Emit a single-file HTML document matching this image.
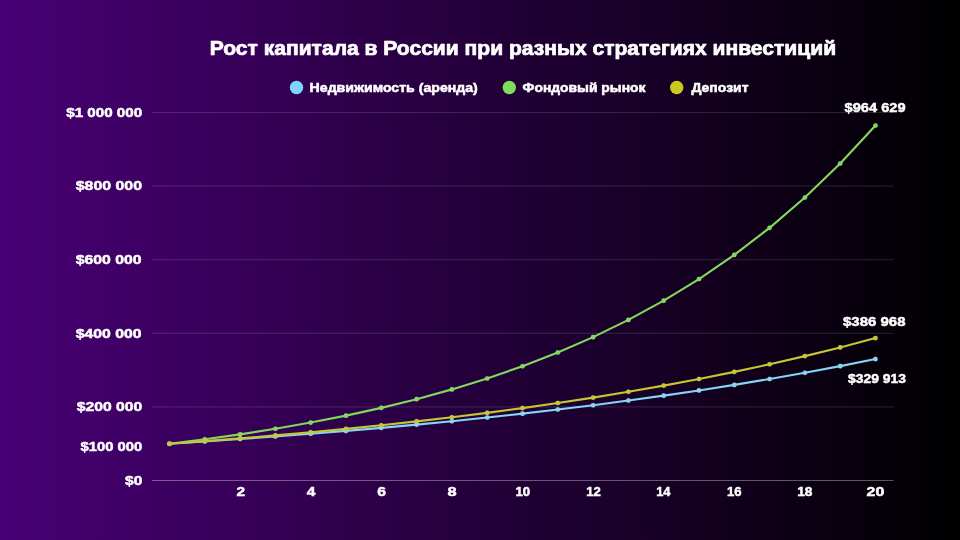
<!DOCTYPE html>
<html lang="ru">
<head>
<meta charset="utf-8">
<title>Рост капитала в России при разных стратегиях инвестиций</title>
<style>
html,body{margin:0;padding:0;}
body{width:960px;height:540px;overflow:hidden;background:#000;font-family:"Liberation Sans",sans-serif;}
#chart{position:relative;width:960px;height:540px;background:linear-gradient(90deg,#480075 0%,#000000 100%);}
svg{position:absolute;left:0;top:0;display:block;}
text{font-family:"Liberation Sans",sans-serif;font-weight:bold;fill:#ffffff;stroke:#ffffff;stroke-linejoin:round;}
.title{font-size:19.5px;stroke-width:0.7px;}
.legend{font-size:13.5px;stroke-width:0.55px;}
.num{font-size:13.4px;stroke-width:0.5px;}
.grid{stroke:#ffffff;stroke-opacity:0.14;stroke-width:1;}
.axis{stroke:#ffffff;stroke-opacity:0.34;stroke-width:1;}
</style>
</head>
<body>
<div id="chart">
<svg width="960" height="540" viewBox="0 0 960 540">
<circle cx="296.5" cy="87.5" r="6.7" fill="#7fd4ff"/>
<circle cx="509.3" cy="87.5" r="6.7" fill="#7edc5a"/>
<circle cx="676.7" cy="87.5" r="6.7" fill="#c9c91e"/>
<line class="grid" x1="152" x2="893.5" y1="112.50" y2="112.50"/>
<line class="grid" x1="152" x2="893.5" y1="186.10" y2="186.10"/>
<line class="grid" x1="152" x2="893.5" y1="259.70" y2="259.70"/>
<line class="grid" x1="152" x2="893.5" y1="333.30" y2="333.30"/>
<line class="grid" x1="152" x2="893.5" y1="406.90" y2="406.90"/>
<line class="axis" x1="152" x2="893.5" y1="480.50" y2="480.50"/>
<polyline points="169.50,443.70 204.80,441.44 240.10,439.03 275.40,436.48 310.70,433.78 346.00,430.90 381.30,427.85 416.60,424.62 451.90,421.18 487.20,417.53 522.50,413.66 557.80,409.55 593.10,405.18 628.40,400.55 663.70,395.64 699.00,390.42 734.30,384.88 769.60,378.99 804.90,372.75 840.20,366.13 875.50,359.09" fill="none" stroke="#86d5f4" stroke-width="2.1" stroke-linejoin="round" stroke-linecap="round"/>
<g fill="#86d5f4" stroke="#ffffff" stroke-opacity="0.18" stroke-width="0.6"><circle cx="169.50" cy="443.70" r="2.3"/><circle cx="204.80" cy="441.44" r="2.3"/><circle cx="240.10" cy="439.03" r="2.3"/><circle cx="275.40" cy="436.48" r="2.3"/><circle cx="310.70" cy="433.78" r="2.3"/><circle cx="346.00" cy="430.90" r="2.3"/><circle cx="381.30" cy="427.85" r="2.3"/><circle cx="416.60" cy="424.62" r="2.3"/><circle cx="451.90" cy="421.18" r="2.3"/><circle cx="487.20" cy="417.53" r="2.3"/><circle cx="522.50" cy="413.66" r="2.3"/><circle cx="557.80" cy="409.55" r="2.3"/><circle cx="593.10" cy="405.18" r="2.3"/><circle cx="628.40" cy="400.55" r="2.3"/><circle cx="663.70" cy="395.64" r="2.3"/><circle cx="699.00" cy="390.42" r="2.3"/><circle cx="734.30" cy="384.88" r="2.3"/><circle cx="769.60" cy="378.99" r="2.3"/><circle cx="804.90" cy="372.75" r="2.3"/><circle cx="840.20" cy="366.13" r="2.3"/><circle cx="875.50" cy="359.09" r="2.3"/></g>
<polyline points="169.50,443.70 204.80,439.28 240.10,434.34 275.40,428.80 310.70,422.59 346.00,415.65 381.30,407.86 416.60,399.15 451.90,389.38 487.20,378.45 522.50,366.20 557.80,352.49 593.10,337.13 628.40,319.92 663.70,300.65 699.00,279.07 734.30,254.90 769.60,227.83 804.90,197.51 840.20,163.55 875.50,125.52" fill="none" stroke="#82d85c" stroke-width="2.1" stroke-linejoin="round" stroke-linecap="round"/>
<g fill="#82d85c" stroke="#ffffff" stroke-opacity="0.18" stroke-width="0.6"><circle cx="169.50" cy="443.70" r="2.3"/><circle cx="204.80" cy="439.28" r="2.3"/><circle cx="240.10" cy="434.34" r="2.3"/><circle cx="275.40" cy="428.80" r="2.3"/><circle cx="310.70" cy="422.59" r="2.3"/><circle cx="346.00" cy="415.65" r="2.3"/><circle cx="381.30" cy="407.86" r="2.3"/><circle cx="416.60" cy="399.15" r="2.3"/><circle cx="451.90" cy="389.38" r="2.3"/><circle cx="487.20" cy="378.45" r="2.3"/><circle cx="522.50" cy="366.20" r="2.3"/><circle cx="557.80" cy="352.49" r="2.3"/><circle cx="593.10" cy="337.13" r="2.3"/><circle cx="628.40" cy="319.92" r="2.3"/><circle cx="663.70" cy="300.65" r="2.3"/><circle cx="699.00" cy="279.07" r="2.3"/><circle cx="734.30" cy="254.90" r="2.3"/><circle cx="769.60" cy="227.83" r="2.3"/><circle cx="804.90" cy="197.51" r="2.3"/><circle cx="840.20" cy="163.55" r="2.3"/><circle cx="875.50" cy="125.52" r="2.3"/></g>
<polyline points="169.50,443.70 204.80,441.12 240.10,438.37 275.40,435.42 310.70,432.26 346.00,428.89 381.30,425.27 416.60,421.41 451.90,417.27 487.20,412.84 522.50,408.11 557.80,403.04 593.10,397.62 628.40,391.82 663.70,385.61 699.00,378.97 734.30,371.86 769.60,364.26 804.90,356.12 840.20,347.41 875.50,338.10" fill="none" stroke="#c5c732" stroke-width="2.1" stroke-linejoin="round" stroke-linecap="round"/>
<g fill="#c5c732" stroke="#ffffff" stroke-opacity="0.18" stroke-width="0.6"><circle cx="169.50" cy="443.70" r="2.3"/><circle cx="204.80" cy="441.12" r="2.3"/><circle cx="240.10" cy="438.37" r="2.3"/><circle cx="275.40" cy="435.42" r="2.3"/><circle cx="310.70" cy="432.26" r="2.3"/><circle cx="346.00" cy="428.89" r="2.3"/><circle cx="381.30" cy="425.27" r="2.3"/><circle cx="416.60" cy="421.41" r="2.3"/><circle cx="451.90" cy="417.27" r="2.3"/><circle cx="487.20" cy="412.84" r="2.3"/><circle cx="522.50" cy="408.11" r="2.3"/><circle cx="557.80" cy="403.04" r="2.3"/><circle cx="593.10" cy="397.62" r="2.3"/><circle cx="628.40" cy="391.82" r="2.3"/><circle cx="663.70" cy="385.61" r="2.3"/><circle cx="699.00" cy="378.97" r="2.3"/><circle cx="734.30" cy="371.86" r="2.3"/><circle cx="769.60" cy="364.26" r="2.3"/><circle cx="804.90" cy="356.12" r="2.3"/><circle cx="840.20" cy="347.41" r="2.3"/><circle cx="875.50" cy="338.10" r="2.3"/></g>
<text class="title" x="209.79" y="55.30" textLength="626.30" lengthAdjust="spacingAndGlyphs">Рост капитала в России при разных стратегиях инвестиций</text>
<text class="legend" x="309.60" y="91.70" textLength="168.21" lengthAdjust="spacingAndGlyphs">Недвижимость (аренда)</text>
<text class="legend" x="522.59" y="91.70" textLength="122.91" lengthAdjust="spacingAndGlyphs">Фондовый рынок</text>
<text class="legend" x="691.50" y="91.70" textLength="57.00" lengthAdjust="spacingAndGlyphs">Депозит</text>
<text class="num" x="66.20" y="116.60" textLength="76.03" lengthAdjust="spacingAndGlyphs">$1 000 000</text>
<text class="num" x="75.75" y="190.40" textLength="66.30" lengthAdjust="spacingAndGlyphs">$800 000</text>
<text class="num" x="75.74" y="263.70" textLength="65.76" lengthAdjust="spacingAndGlyphs">$600 000</text>
<text class="num" x="75.74" y="337.60" textLength="65.76" lengthAdjust="spacingAndGlyphs">$400 000</text>
<text class="num" x="76.72" y="411.10" textLength="65.45" lengthAdjust="spacingAndGlyphs">$200 000</text>
<text class="num" x="80.50" y="450.60" textLength="61.64" lengthAdjust="spacingAndGlyphs">$100 000</text>
<text class="num" x="125.04" y="485.10" textLength="17.22" lengthAdjust="spacingAndGlyphs">$0</text>
<text class="num" x="844.56" y="111.90" textLength="60.99" lengthAdjust="spacingAndGlyphs">$964 629</text>
<text class="num" x="843.03" y="326.10" textLength="62.45" lengthAdjust="spacingAndGlyphs">$386 968</text>
<text class="num" x="848.02" y="383.30" textLength="57.98" lengthAdjust="spacingAndGlyphs">$329 913</text>
<text class="num" x="236.63" y="496.20" textLength="8.59" lengthAdjust="spacingAndGlyphs">2</text>
<text class="num" x="306.84" y="496.20" textLength="8.66" lengthAdjust="spacingAndGlyphs">4</text>
<text class="num" x="377.27" y="496.20" textLength="8.72" lengthAdjust="spacingAndGlyphs">6</text>
<text class="num" x="447.58" y="496.20" textLength="9.14" lengthAdjust="spacingAndGlyphs">8</text>
<text class="num" x="515.50" y="496.20" textLength="14.71" lengthAdjust="spacingAndGlyphs">10</text>
<text class="num" x="586.21" y="496.20" textLength="14.63" lengthAdjust="spacingAndGlyphs">12</text>
<text class="num" x="656.19" y="496.20" textLength="14.31" lengthAdjust="spacingAndGlyphs">14</text>
<text class="num" x="727.00" y="496.20" textLength="14.56" lengthAdjust="spacingAndGlyphs">16</text>
<text class="num" x="797.17" y="496.20" textLength="15.25" lengthAdjust="spacingAndGlyphs">18</text>
<text class="num" x="866.60" y="496.20" textLength="17.71" lengthAdjust="spacingAndGlyphs">20</text>
</svg>
</div>
</body>
</html>
